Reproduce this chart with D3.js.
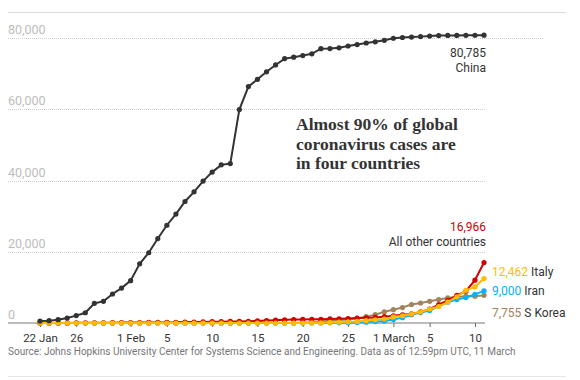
<!DOCTYPE html>
<html><head><meta charset="utf-8">
<script src="https://cdn.jsdelivr.net/npm/d3@7"></script>
<style>
body{margin:0;background:#fff;}
svg{display:block;font-family:Roboto,"Noto Sans",sans-serif;}
</style></head>
<body><svg id="c" width="580" height="380"></svg>
<script>
const startDate = "2020-01-22";
const china = [548,643,920,1406,2075,2877,5509,6087,8141,9802,11891,16630,19716,23707,27440,30587,34110,36814,39829,42354,44386,44759,59895,66358,68413,70513,72434,74211,74619,75077,75550,77001,77022,77241,77754,78166,78600,78928,79356,79932,80136,80261,80386,80537,80690,80711,80735,80754,80778,80785];
const italy = [0,0,0,0,0,0,0,0,0,2,2,2,2,2,2,2,3,3,3,3,3,3,3,3,3,3,3,3,3,3,20,62,155,229,322,453,655,888,1128,1694,2036,2502,3089,3858,4636,5883,7375,9172,10149,12462];
const iran = [0,0,0,0,0,0,0,0,0,0,0,0,0,0,0,0,0,0,0,0,0,0,0,0,0,0,0,0,2,5,18,28,43,61,95,139,245,388,593,978,1501,2336,2922,3513,4747,5823,6566,7161,8042,9000];
const korea = [1,1,2,2,3,4,4,4,4,11,12,15,15,16,19,23,24,24,25,27,28,28,28,28,28,29,30,31,31,104,204,433,602,833,977,1261,1766,2337,3150,3736,4335,5186,5621,6088,6593,7041,7314,7478,7513,7755];
const others = [6,10,19,26,40,46,65,75,89,112,133,140,148,167,174,182,254,279,293,378,385,431,442,496,586,679,791,891,984,1008,1027,1048,1136,1197,1258,1369,1480,1571,1784,2029,2298,2555,3102,3890,5135,6330,7743,8919,12029,16966];

const tickDates = ["2020-01-22","2020-01-26","2020-02-01","2020-02-05","2020-02-10","2020-02-15","2020-02-20","2020-02-25","2020-03-01","2020-03-05","2020-03-10"];
const tickLabels = ["22 Jan","26","1 Feb","5","10","15","20","25","1 March","5","10"];
const yTicks = [0,20000,40000,60000,80000];
const yTickLabels = ["0","20,000","40,000","60,000","80,000"];

const seriesNames = ["S Korea","Iran","All other countries","Italy","China"];
const seriesColors = ["#a1845c","#00b2ff","#d40000","#ffbb00","#333333"];
const endValues = ["7,755","9,000","16,966","12,462","80,785"];

const parse = d3.utcParse("%Y-%m-%d");
const t0 = parse(startDate);
const dates = china.map((d,i)=>d3.utcDay.offset(t0,i));
const seriesVals = [korea, iran, others, italy, china];

const svg = d3.select("#c");
const x = d3.scaleUtc().domain([t0, dates[dates.length-1]]).range([40,484]);
const y = d3.scaleLinear().domain([0,80000]).range([323,38]);

// top and bottom rules
svg.append("line").attr("x1",8).attr("x2",566).attr("y1",12.5).attr("y2",12.5).attr("stroke","#dcdcdc").attr("stroke-width",1);
svg.append("line").attr("x1",8).attr("x2",566).attr("y1",376.5).attr("y2",376.5).attr("stroke","#e6e6e6").attr("stroke-width",1);

// gridlines
const g = svg.append("g");
yTicks.forEach((v,i)=>{
  if(v>0){
    g.append("line").attr("x1",8).attr("x2", v===80000?543:485)
      .attr("y1",Math.round(y(v))+0.5).attr("y2",Math.round(y(v))+0.5)
      .attr("stroke","#cfcfcf").attr("stroke-dasharray","1,1");
  }
  g.append("text").attr("x",8).attr("y",y(v)-4).text(yTickLabels[i])
    .attr("fill","#bdbdbd").attr("font-size",12.5);
});

// x axis
const xAxis = d3.axisBottom(x).tickValues(tickDates.map(parse)).tickSize(4).tickSizeOuter(0)
  .tickFormat((d,i)=>tickLabels[i]);
const ax = svg.append("g").attr("transform",`translate(0,${y(0)})`).call(xAxis);
ax.select(".domain").remove();
ax.selectAll(".tick line").attr("stroke","#666");
ax.selectAll(".tick text").attr("fill","#333").attr("font-size",11.5).attr("y",19).attr("dy",0).attr("font-family","Roboto");
svg.append("line").attr("x1",8).attr("x2",485).attr("y1",y(0)).attr("y2",y(0)).attr("stroke","#777").attr("stroke-width",1);

// lines
const line = d3.line().x((d,i)=>x(dates[i])).y(d=>y(d));
seriesVals.forEach((vals,k)=>{
  const gg = svg.append("g");
  gg.append("path").attr("d",line(vals)).attr("fill","none").attr("stroke",seriesColors[k]).attr("stroke-width",2);
  gg.selectAll("circle").data(vals).join("circle")
    .attr("cx",(d,i)=>x(dates[i])).attr("cy",d=>y(d)).attr("r",2.6).attr("fill",seriesColors[k]);
});

// end labels
function endLabel(k, xx, yy, anchor, twoLine){
  const t = svg.append("text").attr("x",xx).attr("y",yy).attr("text-anchor",anchor).attr("font-size",12);
  t.append("tspan").attr("fill",seriesColors[k]).text(endValues[k]);
  if(twoLine){
    svg.append("text").attr("x",xx).attr("y",yy+15).attr("text-anchor",anchor).attr("font-size",12).attr("fill","#333").text(seriesNames[k]);
  } else {
    t.append("tspan").attr("fill","#333").text(" "+seriesNames[k]);
  }
}
endLabel(4, 486, 57, "end", true);
endLabel(2, 486, 231, "end", true);
endLabel(3, 492, 276, "start", false);
endLabel(1, 492, 295, "start", false);
endLabel(0, 492, 317, "start", false);

// title annotation
const title = ["Almost 90% of global","coronavirus cases are","in four countries"];
title.forEach((s,i)=>{
  svg.append("text").attr("x",296).attr("y",130+i*19.5).text(s)
    .attr("font-family","'Liberation Serif',serif").attr("font-weight","bold").attr("font-size",17.5).attr("fill","#333");
});

// source
svg.append("text").attr("x",8).attr("y",355).attr("font-size",10).attr("fill","#767676")
  .text("Source: Johns Hopkins University Center for Systems Science and Engineering. Data as of 12:59pm UTC, 11 March");
</script></body></html>
